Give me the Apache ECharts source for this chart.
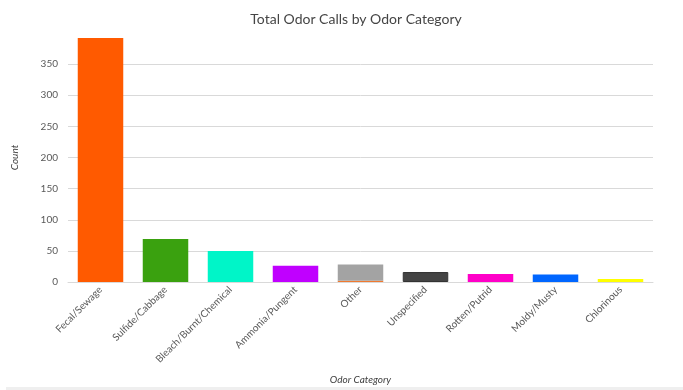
<!DOCTYPE html>
<html>
<head>
<meta charset="utf-8">
<script src="https://cdn.jsdelivr.net/npm/echarts@6/dist/echarts.min.js"></script>
<style>
  html, body { margin: 0; padding: 0; background: #ffffff; }
  #chart { width: 683px; height: 390px; }
</style>
</head>
<body>
<div id="chart"></div>
<script>
// Odor complaint totals by category
const categories = ['Fecal/Sewage', 'Sulfide/Cabbage', 'Bleach/Burnt/Chemical', 'Ammonia/Pungent',
  'Other', 'Unspecified', 'Rotten/Putrid', 'Moldy/Musty', 'Chlorinous'];
const counts = [392, 69, 50, 26, 26, 16, 13, 12, 5];
// small sliver under "Other" shown in the sewage colour
const otherBase = [null, null, null, null, 2, null, null, null, null];
const barColors = ['#ff5a00', '#3aa10f', '#00f5c8', '#c000ff', '#a3a3a3', '#444444', '#ff00c8', '#0066ff', '#ffff00'];
const yTicks = [0, 50, 100, 150, 200, 250, 300, 350];

const chart = echarts.init(document.getElementById('chart'), null, { renderer: 'canvas' });

const font = 'Lato, "Open Sans", sans-serif';

chart.setOption({
  animation: false,
  backgroundColor: '#ffffff',
  title: {
    text: 'Total Odor Calls by Odor Category',
    left: 351,
    top: 7,
    textAlign: 'center',
    textStyle: { fontFamily: font, fontSize: 14, fontWeight: 'normal', color: '#454545' }
  },
  grid: { left: 68, right: 30, top: 33, bottom: 108, containLabel: false },
  xAxis: {
    type: 'category',
    data: categories,
    name: 'Odor Category',
    nameLocation: 'middle',
    nameGap: 93,
    nameTextStyle: { fontFamily: font, fontSize: 10, fontStyle: 'italic', color: '#404040' },
    axisLine: { show: true, lineStyle: { color: '#d9d9d9', width: 1 } },
    axisTick: { show: false },
    axisLabel: {
      interval: 0,
      rotate: 45,
      fontFamily: font,
      fontSize: 10,
      color: '#595959',
      margin: 6
    }
  },
  yAxis: {
    type: 'value',
    min: 0,
    max: 400,
    interval: 50,
    name: 'Count',
    nameLocation: 'middle',
    nameGap: 48,
    nameTextStyle: { fontFamily: font, fontSize: 10, fontStyle: 'italic', color: '#404040' },
    axisLine: { show: false },
    axisTick: { show: false },
    axisLabel: {
      showMaxLabel: false,
      fontFamily: font,
      fontSize: 10,
      color: '#595959',
      margin: 10,
      formatter: v => (yTicks.indexOf(v) >= 0 ? String(v) : '')
    },
    splitLine: { show: true, showMaxLine: false, lineStyle: { color: '#d9d9d9', width: 1 } }
  },
  series: [
    {
      type: 'bar',
      stack: 'total',
      barCategoryGap: '30%',
      data: otherBase,
      itemStyle: { color: '#f07a30' }
    },
    {
      type: 'bar',
      stack: 'total',
      barCategoryGap: '30%',
      data: counts.map((v, i) => ({
        value: v,
        itemStyle: { color: barColors[i], borderColor: i === 5 ? '#333333' : barColors[i], borderWidth: i === 5 ? 1 : 0 }
      }))
    }
  ],
  graphic: [
    {
      type: 'rect',
      shape: { x: 6, y: 387, width: 677, height: 3 },
      style: { fill: '#efefef' },
      silent: true
    }
  ]
});
</script>
</body>
</html>
